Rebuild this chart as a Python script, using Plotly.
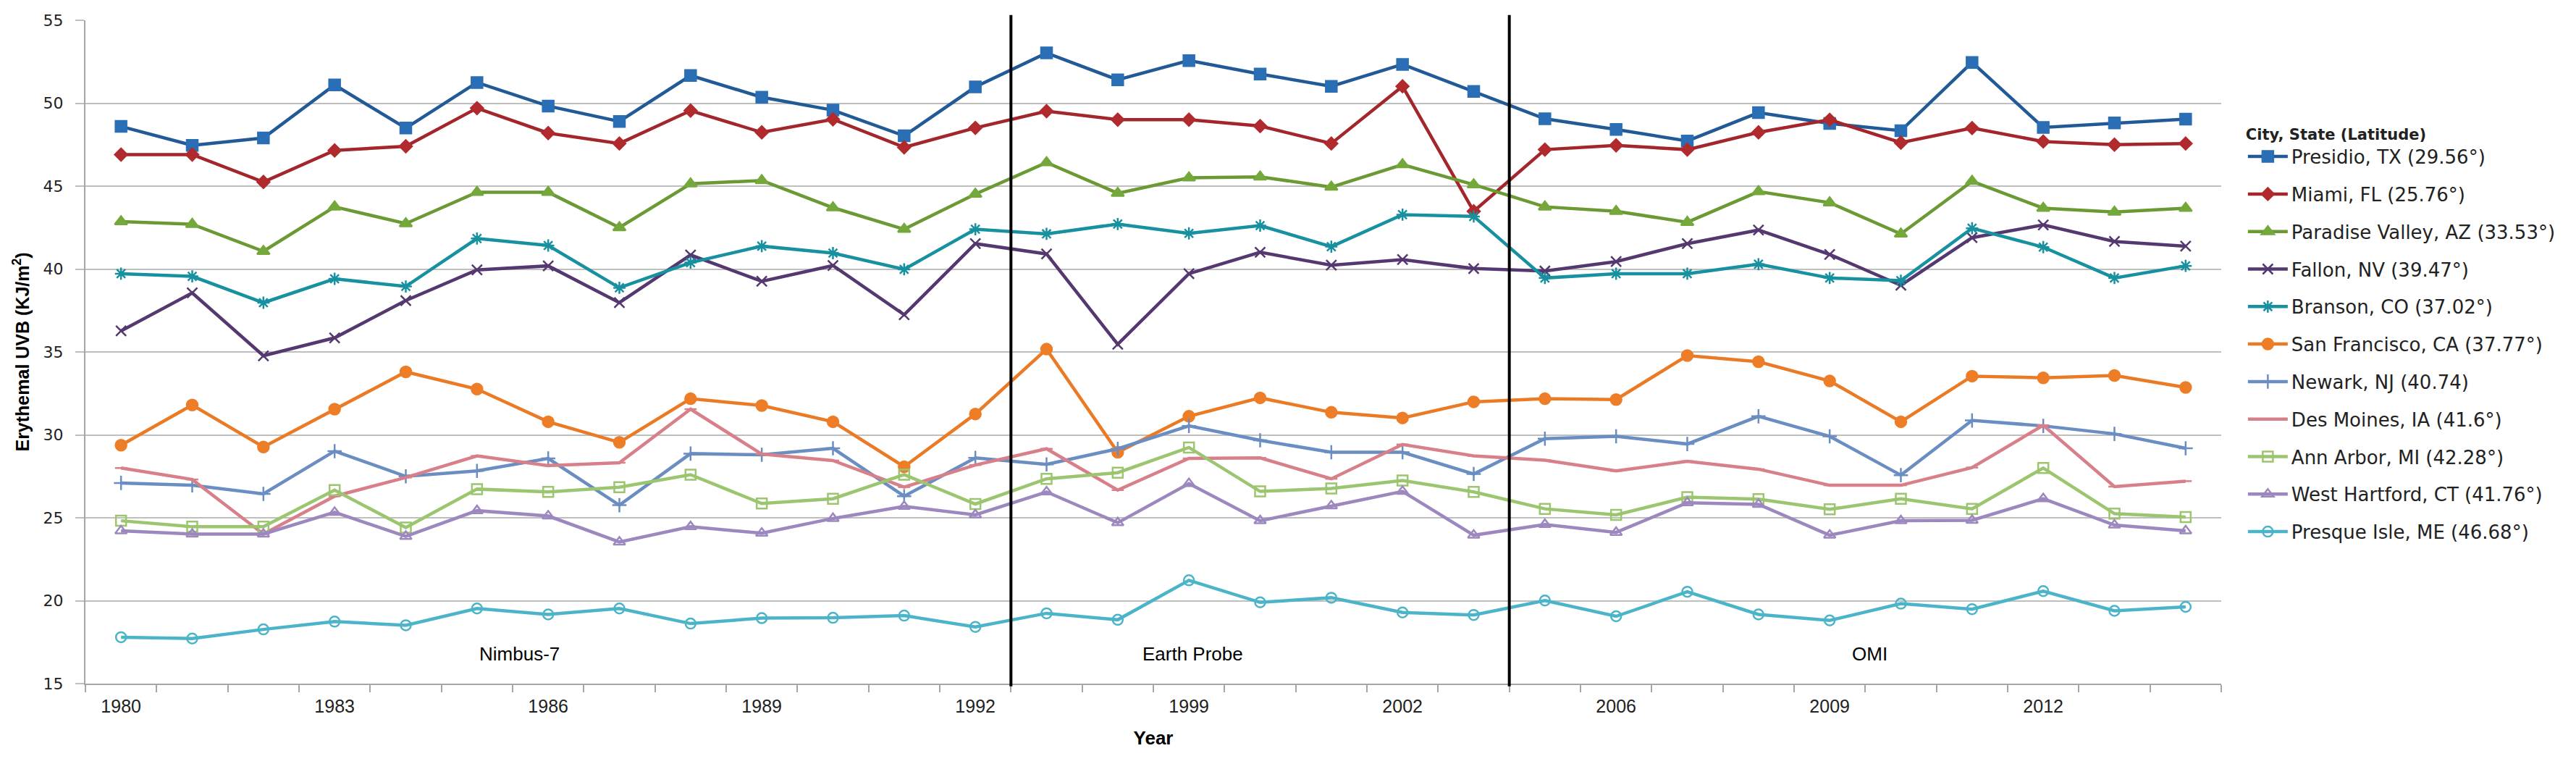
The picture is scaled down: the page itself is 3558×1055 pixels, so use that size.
import plotly.graph_objects as go

# Years on the category axis (gaps between satellite records)
years = [str(y) for y in list(range(1980, 1993)) + [1997, 1998, 1999, 2000, 2001, 2002, 2003] + list(range(2005, 2015))]

# Erythemal UVB (KJ/m2)
presidio = [48.6, 47.46, 47.9, 51.1, 48.5, 51.25, 49.83, 48.9, 51.67, 50.36,
            49.58, 48.03, 50.98, 53.03, 51.41, 52.57, 51.76, 51.02, 52.34, 50.71,
            49.06, 48.42, 47.72, 49.43, 48.78, 48.34, 52.46, 48.54, 48.81, 49.04]
miami = [46.9, 46.9, 45.25, 47.15, 47.4, 49.7, 48.2, 47.57, 49.55, 48.24,
         49.03, 47.34, 48.51, 49.52, 49.01, 49.01, 48.62, 47.57, 51.02, 43.48,
         47.2, 47.46, 47.2, 48.24, 49.0, 47.62, 48.5, 47.69, 47.5, 47.57]
paradise_valley = [42.86, 42.7, 41.07, 43.75, 42.74, 44.63, 44.63, 42.5, 45.14, 45.34,
                   43.7, 42.4, 44.52, 46.42, 44.57, 45.5, 45.56, 44.94, 46.3, 45.09,
                   43.75, 43.48, 42.82, 44.67, 44.0, 42.12, 45.29, 43.67, 43.44, 43.67]
fallon = [36.27, 38.56, 34.77, 35.85, 38.1, 39.95, 40.19, 37.97, 40.85, 39.26,
          40.21, 37.24, 41.53, 40.91, 35.46, 39.72, 41.01, 40.23, 40.57, 40.03,
          39.88, 40.45, 41.53, 42.35, 40.88, 39.02, 41.89, 42.66, 41.66, 41.38]
branson = [39.72, 39.56, 37.97, 39.41, 38.95, 41.84, 41.42, 38.87, 40.39, 41.38,
           40.96, 39.98, 42.4, 42.12, 42.71, 42.15, 42.62, 41.35, 43.28, 43.17,
           39.46, 39.72, 39.72, 40.29, 39.46, 39.3, 42.46, 41.32, 39.46, 40.19]
san_francisco = [29.38, 31.8, 29.27, 31.55, 33.8, 32.76, 30.79, 29.55, 32.18, 31.77,
                 30.79, 28.08, 31.26, 35.17, 28.95, 31.12, 32.23, 31.36, 31.02, 31.99,
                 32.18, 32.13, 34.78, 34.41, 33.25, 30.79, 33.54, 33.44, 33.58, 32.86]
newark = [27.1, 26.96, 26.44, 29.02, 27.5, 27.83, 28.58, 25.76, 28.87, 28.8,
          29.19, 26.3, 28.61, 28.22, 29.16, 30.54, 29.67, 28.95, 28.95, 27.64,
          29.77, 29.91, 29.45, 31.12, 29.91, 27.57, 30.87, 30.54, 30.06, 29.19]
des_moines = [28.0, 27.31, 24.02, 26.3, 27.43, 28.73, 28.15, 28.32, 31.55, 28.84,
              28.45, 26.85, 28.18, 29.16, 26.67, 28.58, 28.61, 27.35, 29.42, 28.73,
              28.47, 27.83, 28.41, 27.93, 26.96, 26.96, 28.03, 30.58, 26.88, 27.21]
ann_arbor = [24.82, 24.46, 24.46, 26.67, 24.41, 26.73, 26.56, 26.85, 27.6, 25.86,
             26.15, 27.6, 25.83, 27.35, 27.72, 29.24, 26.59, 26.77, 27.25, 26.56,
             25.54, 25.18, 26.24, 26.12, 25.51, 26.15, 25.54, 28.0, 25.25, 25.04]
west_hartford = [24.21, 24.02, 24.02, 25.33, 23.88, 25.43, 25.11, 23.54, 24.46, 24.07,
                 24.96, 25.69, 25.18, 26.56, 24.7, 27.06, 24.82, 25.72, 26.59, 23.95,
                 24.6, 24.12, 25.91, 25.81, 23.95, 24.82, 24.85, 26.15, 24.56, 24.21]
presque_isle = [17.8, 17.72, 18.27, 18.74, 18.52, 19.53, 19.17, 19.53, 18.62, 18.95,
                18.97, 19.1, 18.42, 19.24, 18.85, 21.23, 19.9, 20.18, 19.29, 19.14,
                20.01, 19.06, 20.54, 19.17, 18.81, 19.82, 19.49, 20.58, 19.39, 19.63]

cities = ['Presidio, TX (29.56°)', 'Miami, FL (25.76°)', 'Paradise Valley, AZ (33.53°)',
          'Fallon, NV (39.47°)', 'Branson, CO (37.02°)', 'San Francisco, CA (37.77°)',
          'Newark, NJ (40.74)', 'Des Moines, IA (41.6°)', 'Ann Arbor, MI (42.28°)',
          'West Hartford, CT (41.76°)', 'Presque Isle, ME (46.68°)']
series = [presidio, miami, paradise_valley, fallon, branson, san_francisco,
          newark, des_moines, ann_arbor, west_hartford, presque_isle]

# satellite periods: label and (approx) position on the category axis
sat_names = ['Nimbus-7', 'Earth Probe', 'OMI']
sat_label_pos = [5.6, 15.05, 24.56]
sat_breaks = [12.5, 19.5]

# style per city: line colour, marker colour, symbol, marker size
styles = [
    ('#215A96', '#2A6EB5', 'square', 15),
    ('#A2262B', '#B02A2E', 'diamond', 13),
    ('#6B9A34', '#74A83A', 'triangle-up', 15),
    ('#55386F', '#55386F', 'x-thin-open', 14),
    ('#17909F', '#17909F', 'asterisk-open', 14),
    ('#EB7A25', '#EE7D27', 'circle', 15),
    ('#6A8DC2', '#6A8DC2', 'cross-thin-open', 14),
    ('#D8808A', '#D8808A', 'line-ew-open', 12),
    ('#9BC56F', '#9BC56F', 'square-open', 14),
    ('#9C88BE', '#9C88BE', 'triangle-up-open', 14),
    ('#4CB4C9', '#4CB4C9', 'circle-open', 14),
]

fig = go.Figure()

for name, vals, (lc, mc, sym, ms) in zip(cities, series, styles):
    fig.add_trace(go.Scatter(
        x=years,
        y=vals,
        name=name,
        legendgroup=name,
        mode='lines+markers',
        line=dict(color=lc, width=4.5),
        marker=dict(symbol=sym, size=ms, color=mc,
                    line=dict(color=mc, width=2.5)),
        cliponaxis=False,
    ))

# vertical separators between satellite records
for xb in sat_breaks:
    fig.add_shape(type='line', xref='x', yref='paper',
                  x0=xb, x1=xb, y0=-0.004, y1=1.008,
                  line=dict(color='black', width=4))

for txt, xp in zip(sat_names, sat_label_pos):
    fig.add_annotation(x=xp, y=16.8, xref='x', yref='y', text=txt,
                       showarrow=False,
                       font=dict(family='Liberation Sans', size=26, color='black'))

tick_idx = list(range(0, len(years), 3))

fig.update_layout(
    width=3558,
    height=1055,
    autosize=False,
    paper_bgcolor='white',
    plot_bgcolor='white',
    margin=dict(l=118, r=490, t=28, b=111),
    font=dict(family='Liberation Sans', color='#222222'),
    showlegend=True,
    legend=dict(
        x=1.0108, xanchor='left',
        y=0.85, yanchor='top',
        title=dict(text='City, State (Latitude)',
                   font=dict(family='DejaVu Sans', size=21, weight='bold', color='#222222')),
        font=dict(family='DejaVu Sans', size=26, color='#222222'),
        tracegroupgap=15,
        itemwidth=55,
        bgcolor='rgba(0,0,0,0)',
    ),
    xaxis=dict(
        type='category',
        categoryorder='array',
        categoryarray=years,
        range=[-0.5, len(years) - 0.5],
        tickmode='array',
        tickvals=years,
        ticktext=[y if i in tick_idx else '' for i, y in enumerate(years)],
        tickson='boundaries',
        ticks='outside',
        ticklen=10,
        tickwidth=2,
        tickcolor='#A6A6A6',
        ticklabelstandoff=8,
        tickfont=dict(family='Liberation Sans', size=25, color='#222222'),
        showline=True,
        linecolor='#A6A6A6',
        linewidth=2,
        showgrid=False,
        zeroline=False,
        title=dict(text='Year', standoff=22,
                   font=dict(family='Liberation Sans', size=26, weight='bold', color='black')),
    ),
    yaxis=dict(
        range=[15, 55],
        tickmode='linear',
        tick0=15,
        dtick=5,
        ticks='outside',
        ticklen=12,
        tickwidth=2,
        tickcolor='#BFBFBF',
        ticklabelstandoff=12,
        tickfont=dict(family='DejaVu Sans', size=22, color='#222222'),
        showline=True,
        linecolor='#A6A6A6',
        linewidth=2,
        showgrid=True,
        gridcolor='#BFBFBF',
        gridwidth=2,
        zeroline=False,
        title=dict(text='Erythemal UVB (KJ/m<sup>2</sup>)', standoff=12,
                   font=dict(family='Liberation Sans', size=25, weight='bold', color='black')),
    ),
)

fig.write_html("out.html",
               config={'displayModeBar': False},
               post_script="document.body.style.margin='0';document.body.style.overflow='hidden';")
